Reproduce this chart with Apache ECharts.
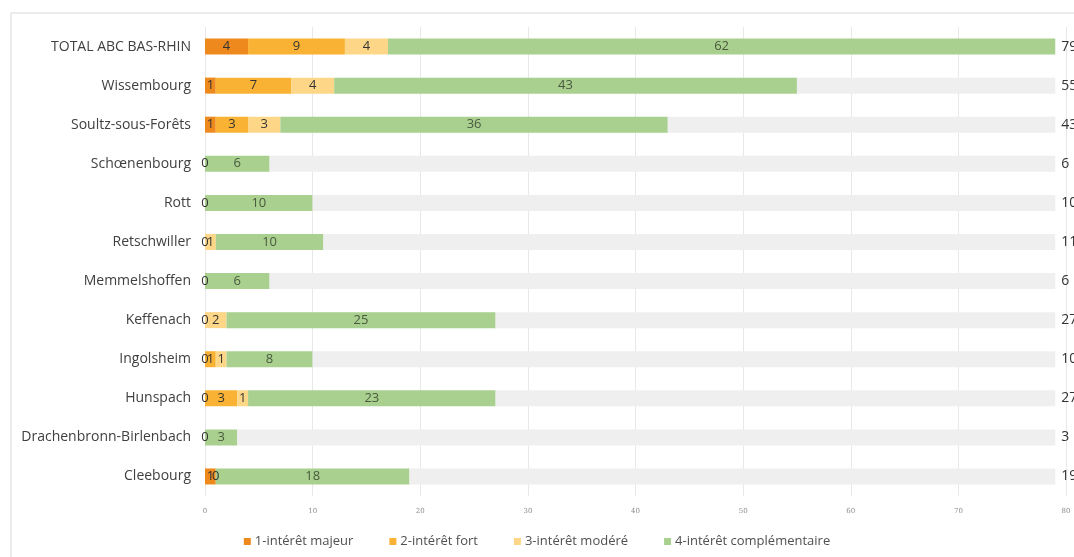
<!DOCTYPE html>
<html>
<head>
<meta charset="utf-8">
<script src="https://cdn.jsdelivr.net/npm/echarts@6/dist/echarts.min.js"></script>
<style>
  html, body { margin: 0; padding: 0; background: #ffffff; }
  #chart { width: 1074px; height: 557px; }
</style>
</head>
<body>
<div id="chart"></div>
<script>
// Communes, top to bottom
const categories = [
  'TOTAL ABC BAS-RHIN', 'Wissembourg', 'Soultz-sous-Forêts', 'Schœnenbourg', 'Rott',
  'Retschwiller', 'Memmelshoffen', 'Keffenach', 'Ingolsheim', 'Hunspach',
  'Drachenbronn-Birlenbach', 'Cleebourg'
];
// Number of species per level of interest (null = empty cell)
const interetMajeur = [4, 1, 1, 0, 0, 0, 0, 0, 0, 0, 0, 1];
const interetFort = [9, 7, 3, null, null, null, null, null, 1, 3, null, 0];
const interetModere = [4, 4, 3, null, null, 1, null, 2, 1, 1, null, null];
const interetComplementaire = [62, 43, 36, 6, 10, 10, 6, 25, 8, 23, 3, 18];
const axisTicks = [0, 10, 20, 30, 40, 50, 60, 70, 80];

// Totals per commune, shown at the end of the grey background track
const totals = categories.map((_, i) =>
  [interetMajeur, interetFort, interetModere, interetComplementaire]
    .reduce((s, arr) => s + (arr[i] || 0), 0));
const trackMax = Math.max(...totals);
const remainder = totals.map(t => trackMax - t);

const FONT = '"Open Sans", sans-serif';
const barLabel = {
  show: true,
  position: 'inside',
  fontFamily: FONT,
  fontSize: 13,
  formatter: p => (p.value === null || p.value === undefined ? '' : String(p.value))
};

function levelSeries(name, data, color, labelColor) {
  return {
    name, type: 'bar', stack: 'n', data, barWidth: 16,
    itemStyle: { color },
    label: Object.assign({}, barLabel, { color: labelColor }),
    emphasis: { disabled: true }
  };
}

const chart = echarts.init(document.getElementById('chart'), null, { renderer: 'canvas' });
chart.setOption({
  animation: false,
  backgroundColor: '#ffffff',
  graphic: [{
    type: 'rect', silent: true, z: -10,
    shape: { x: 11, y: 13, width: 1100, height: 600 },
    style: { fill: 'none', stroke: '#d9d9d9', lineWidth: 1 }
  }],
  grid: { left: 205, right: 8, top: 27, bottom: 61 },
  legend: {
    bottom: 4, left: 'center', itemWidth: 7, itemHeight: 7, itemGap: 36,
    icon: 'rect',
    data: ['1-intérêt majeur', '2-intérêt fort', '3-intérêt modéré', '4-intérêt complémentaire'],
    textStyle: { color: '#505050', fontFamily: FONT, fontSize: 13, padding: [0, 0, 0, -1] }
  },
  xAxis: {
    type: 'value', min: 0, max: 80, interval: 10,
    axisLine: { show: false }, axisTick: { show: false },
    splitLine: { show: true, lineStyle: { color: '#e8e8e8', width: 1 } },
    axisLabel: {
      color: '#8c8c8c', fontSize: 7, fontFamily: '"DejaVu Serif", serif', margin: 12,
      formatter: v => (axisTicks.includes(v) ? String(v) : '')
    }
  },
  yAxis: {
    type: 'category', data: categories, inverse: true,
    axisLine: { show: false }, axisTick: { show: false },
    axisLabel: { color: '#404040', fontFamily: FONT, fontSize: 14, margin: 14 }
  },
  series: [
    levelSeries('1-intérêt majeur', interetMajeur, '#ee8a1d', '#333333'),
    levelSeries('2-intérêt fort', interetFort, '#f9b233', '#333333'),
    levelSeries('3-intérêt modéré', interetModere, '#fdd688', '#333333'),
    levelSeries('4-intérêt complémentaire', interetComplementaire, '#a9d08e', '#4a5a40'),
    {
      name: 'total', type: 'bar', stack: 'n', data: remainder, barWidth: 16,
      itemStyle: { color: '#efefef' },
      emphasis: { disabled: true },
      label: {
        show: true, position: 'right', distance: 6,
        color: '#333333', fontFamily: FONT, fontSize: 14,
        formatter: p => String(totals[p.dataIndex])
      }
    }
  ]
});
</script>
</body>
</html>
